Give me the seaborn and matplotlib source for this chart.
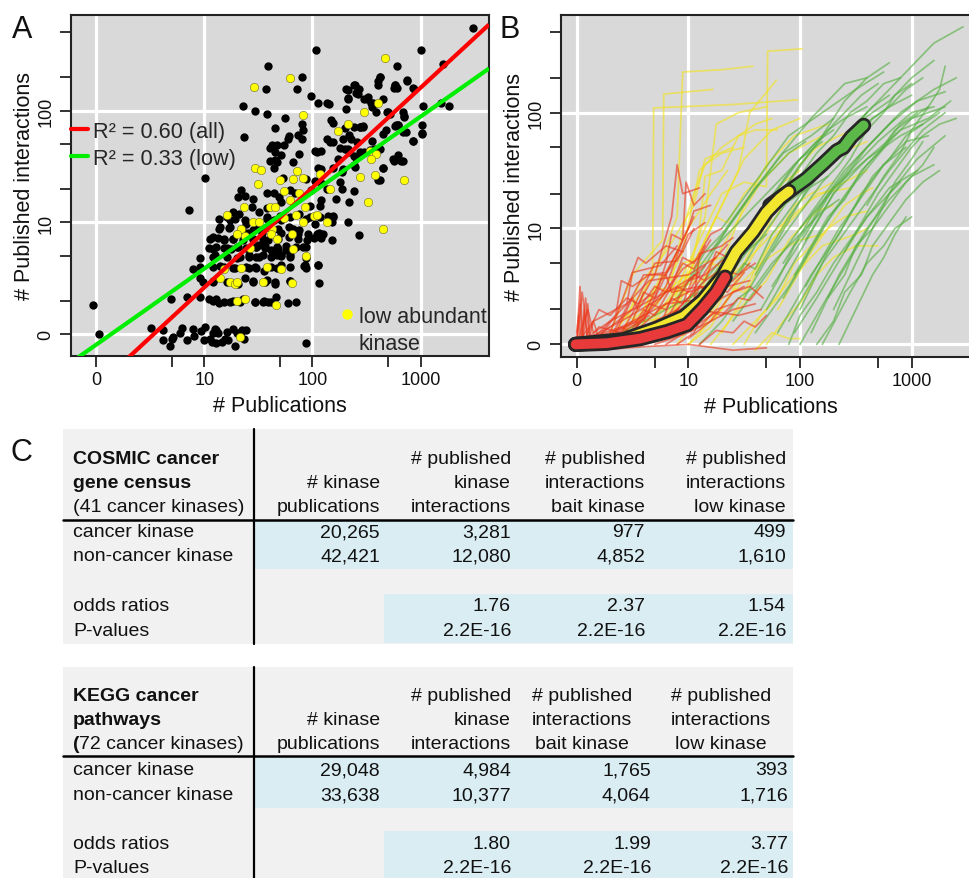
import numpy as np
import pandas as pd
import matplotlib
matplotlib.use("Agg")
import matplotlib.pyplot as plt
import seaborn as sns
from matplotlib.lines import Line2D
from matplotlib.patches import Rectangle

sns.set_theme(style="darkgrid")
plt.rcParams['font.family'] = ['Liberation Sans', 'DejaVu Sans']

# ---------------- DATA ----------------
# axis ticks (count values and their log10 positions; 0 is drawn at position 0)
x_tick_values = [0, 5, 10, 50, 100, 500, 1000]
x_tick_labels = ['0', '', '10', '', '100', '', '1000']
y_tick_values = [0, 2, 5, 10, 20, 50, 100, 200, 500]
y_tick_labels = ['0', '', '', '10', '', '', '100', '', '']
x_grid_values = [0, 10, 100, 1000]
y_grid_values = [0, 10, 100]

# Panel A: (log10 publications, log10 interactions)
black_points = [
    (3.48, 2.74), (2.03, 2.54), (3.00, 2.54), (1.59, 2.40), (3.21, 2.42), (2.78, 2.40), (1.90, 2.30),
    (2.87, 2.27), (2.62, 2.30), (2.61, 2.26), (2.38, 2.23), (2.43, 2.19), (2.40, 2.16), (2.31, 2.19),
    (2.33, 2.10), (2.76, 2.23), (2.75, 2.20), (1.57, 2.19), (1.86, 2.19), (2.94, 2.19), (1.99, 2.13),
    (2.05, 2.07), (2.13, 2.07), (2.15, 2.06), (2.50, 2.10), (2.54, 2.07), (2.55, 2.03), (2.65, 2.10),
    (3.19, 2.07), (3.26, 2.04), (3.02, 2.04), (1.36, 2.04), (1.47, 2.00), (1.58, 1.97), (2.31, 2.01),
    (2.69, 1.99), (2.72, 1.97), (2.84, 1.99), (1.75, 1.93), (2.17, 1.92), (2.19, 1.89), (2.85, 1.94),
    (3.01, 1.87), (3.01, 1.79), (2.77, 1.87), (2.79, 1.87), (2.86, 1.81), (1.90, 1.88), (1.91, 1.83),
    (1.65, 1.84), (2.30, 1.84), (2.38, 1.85), (2.44, 1.85), (2.47, 1.85), (1.37, 1.76), (2.34, 1.78),
    (2.28, 1.75), (2.68, 1.83), (2.65, 1.79), (2.93, 1.73), (1.77, 1.75), (1.78, 1.77), (1.87, 1.78),
    (1.90, 1.75), (2.13, 1.75), (2.16, 1.72), (2.55, 1.73), (2.57, 1.66), (2.19, 1.72), (1.61, 1.67),
    (1.63, 1.69), (1.67, 1.69), (1.65, 1.63), (1.74, 1.69), (2.02, 1.64), (2.04, 1.63), (2.08, 1.64),
    (2.25, 1.67), (2.33, 1.66), (2.34, 1.63), (2.44, 1.63), (2.48, 1.63), (2.74, 1.57), (2.82, 1.55),
    (1.88, 1.61), (1.71, 1.60), (1.82, 1.54), (1.61, 1.55), (1.65, 1.56), (2.24, 1.57), (2.40, 1.58),
    (1.64, 1.49), (1.67, 1.54), (2.05, 1.49), (2.08, 1.48), (2.19, 1.49), (2.28, 1.48), (2.27, 1.45),
    (2.38, 1.51), (2.65, 1.49), (1.01, 1.40), (1.73, 1.40), (1.94, 1.39), (2.62, 1.38), (2.02, 1.37),
    (2.08, 1.35), (2.25, 1.36), (2.13, 1.30), (2.27, 1.30), (1.79, 1.29), (1.34, 1.29), (1.31, 1.23),
    (1.38, 1.24), (1.58, 1.26), (1.45, 1.21), (1.64, 1.26), (1.69, 1.23), (1.84, 1.26), (1.99, 1.29),
    (2.38, 1.28), (2.22, 1.21), (2.34, 1.18), (2.08, 1.20), (0.86, 1.11), (1.27, 1.09), (1.28, 1.03),
    (1.32, 1.08), (1.44, 1.14), (1.51, 1.09), (1.58, 1.13), (1.71, 1.18), (1.98, 1.15), (2.07, 1.15),
    (2.14, 1.06), (2.19, 1.06), (1.14, 1.03), (1.24, 1.02), (1.38, 1.02), (1.48, 0.96), (1.58, 1.03),
    (1.70, 1.06), (1.94, 1.03), (2.02, 0.99), (2.18, 1.00), (2.33, 1.00), (1.14, 0.94), (1.23, 0.95),
    (1.40, 0.91), (1.45, 0.93), (1.53, 0.91), (1.58, 0.96), (1.68, 0.94), (1.71, 0.91), (1.78, 0.96),
    (1.82, 0.94), (1.88, 0.93), (2.06, 0.91), (2.43, 0.89), (1.05, 0.85), (1.13, 0.86), (1.18, 0.85),
    (1.27, 0.85), (1.45, 0.85), (1.54, 0.85), (1.87, 0.85), (1.95, 0.84), (2.01, 0.86), (2.08, 0.86),
    (2.18, 0.84), (1.04, 0.77), (1.08, 0.76), (1.18, 0.77), (1.25, 0.76), (1.31, 0.78), (1.48, 0.78),
    (1.56, 0.79), (1.62, 0.75), (1.68, 0.76), (1.76, 0.79), (1.91, 0.78), (0.96, 0.68), (1.08, 0.69),
    (1.33, 0.69), (1.41, 0.69), (1.48, 0.69), (1.54, 0.71), (1.62, 0.69), (1.67, 0.71), (1.71, 0.70),
    (1.79, 0.71), (0.90, 0.58), (0.96, 0.60), (1.15, 0.61), (1.27, 0.59), (1.41, 0.59), (1.48, 0.59),
    (1.67, 0.59), (1.92, 0.61), (1.94, 0.59), (2.05, 0.62), (0.96, 0.50), (0.99, 0.47), (1.08, 0.48),
    (1.38, 0.50), (1.45, 0.47), (1.58, 0.49), (1.65, 0.47), (1.79, 0.48), (2.06, 0.46), (0.69, 0.32),
    (0.84, 0.33), (0.96, 0.33), (1.04, 0.32), (1.11, 0.32), (1.14, 0.28), (1.24, 0.29), (1.33, 0.29),
    (1.47, 0.29), (1.54, 0.29), (1.59, 0.29), (1.66, 0.33), (1.77, 0.28), (1.85, 0.29), (-0.03, 0.26),
    (0.03, 0.00), (0.51, 0.06), (0.62, 0.04), (0.62, -0.05), (0.68, -0.10), (0.70, -0.04), (0.79, 0.06),
    (0.78, 0.01), (0.84, -0.05), (0.90, 0.05), (0.97, 0.03), (1.01, 0.07), (1.00, -0.05), (1.05, -0.04),
    (1.08, 0.01), (1.11, 0.04), (1.13, 0.01), (1.16, -0.07), (1.22, -0.05), (1.27, 0.05), (1.28, -0.10),
    (1.34, 0.02), (1.39, 0.04), (1.37, -0.04), (1.94, -0.08), (0.71, -0.02), (0.91, -0.01), (1.07, -0.07),
    (1.21, 0.02), (1.30, 0.01),
    (1.15, 0.96), (1.21, 1.05), (1.24, 0.96), (1.35, 0.93), (1.39, 0.99), (1.48, 0.99), (1.58, 1.05),
    (1.64, 1.02), (1.71, 1.02), (1.79, 1.05), (1.88, 1.08), (1.98, 1.05), (2.07, 1.05), (2.19, 1.05),
    (1.08, 0.87), (1.18, 0.84), (1.27, 0.85), (1.36, 0.84), (1.45, 0.85), (1.51, 0.80), (1.59, 0.84),
    (1.68, 0.85), (1.78, 0.87), (1.87, 0.90), (1.96, 0.90), (2.04, 0.90), (2.10, 0.90), (1.11, 0.78),
    (1.21, 0.77), (1.30, 0.78), (1.39, 0.77), (1.48, 0.78), (1.56, 0.77), (1.67, 0.78), (1.76, 0.75),
    (1.85, 0.78), (1.94, 0.78), (1.10, 0.71), (1.21, 0.69), (1.30, 0.68), (1.41, 0.71), (1.51, 0.69),
    (1.71, 0.71), (1.79, 0.69), (1.94, 0.68), (1.08, 0.60), (1.18, 0.60), (1.28, 0.59), (1.39, 0.60),
    (1.47, 0.60), (1.55, 0.57), (1.62, 0.60), (1.71, 0.62), (1.79, 0.60), (1.93, 0.62), (2.05, 0.62),
    (1.08, 0.47), (1.21, 0.47), (1.31, 0.45), (1.45, 0.48), (1.56, 0.47), (1.65, 0.45), (1.79, 0.48),
    (1.08, 0.30), (1.18, 0.29), (1.27, 0.30), (1.36, 0.32), (1.47, 0.29), (1.55, 0.30), (1.62, 0.29),
    (1.10, 0.05), (1.19, -0.04), (1.35, 0.04), (1.11, -0.08),
    (2.33, 2.18), (2.39, 2.23), (2.42, 2.15), (2.48, 2.10), (2.51, 2.12), (2.56, 2.07), (2.59, 1.99),
    (2.61, 2.23), (2.62, 2.30), (2.70, 1.99), (2.76, 2.23), (2.78, 2.20), (2.87, 2.26), (2.93, 2.20),
    (2.79, 1.87), (2.85, 1.95), (2.76, 1.86), (2.84, 1.81), (3.01, 1.80), (2.93, 1.73), (2.33, 2.11),
    (2.36, 1.75), (2.44, 1.85), (2.47, 1.86), (2.41, 1.72), (2.53, 1.65), (2.62, 1.66), (2.75, 1.55),
    (2.79, 1.60), (2.84, 1.55), (2.65, 1.49), (2.39, 1.50), (2.61, 1.38), (2.38, 1.59), (2.30, 1.66),
]
yellow_points = [
    (2.67, 2.47), (1.79, 2.29), (1.46, 2.21), (2.61, 2.07), (1.91, 1.96), (2.48, 1.99), (2.33, 1.88),
    (2.24, 1.82), (2.53, 1.64), (2.59, 1.61), (2.54, 1.57), (1.47, 1.49), (1.52, 1.47), (1.86, 1.46),
    (1.70, 1.38), (1.82, 1.39), (1.91, 1.40), (2.44, 1.41), (2.58, 1.42), (2.85, 1.38), (2.07, 1.43),
    (1.50, 1.34), (1.74, 1.28), (1.88, 1.26), (2.16, 1.30), (2.51, 1.18), (1.21, 1.07), (1.37, 1.14),
    (1.61, 1.14), (1.65, 1.14), (1.79, 1.20), (1.93, 1.14), (2.01, 1.06), (2.04, 1.07), (1.45, 1.00),
    (1.51, 1.00), (1.74, 1.04), (1.85, 1.07), (1.91, 1.00), (2.13, 1.00), (2.65, 0.94), (1.34, 0.94),
    (1.63, 0.94), (1.30, 0.90), (1.38, 0.88), (1.62, 0.90), (1.67, 0.85), (1.81, 0.90), (1.42, 0.77),
    (1.82, 0.76), (1.94, 0.70), (1.18, 0.58), (1.34, 0.59), (1.58, 0.60), (1.71, 0.58), (1.15, 0.50),
    (1.24, 0.47), (1.28, 0.45), (1.30, 0.47), (1.54, 0.47), (1.81, 0.46), (1.30, 0.30), (1.38, 0.32),
    (1.66, 0.26), (1.33, -0.02),
]
fit_labels = ['R\u00b2 = 0.60 (all)', 'R\u00b2 = 0.33 (low)']
fit_slopes = [0.893, 0.680]
fit_intercepts = [-0.474, -0.093]

# Panel B: cumulative publication/interaction traces (log10 units)
red_traces = [
    [(0, 0), (0.1, 0.3), (0.15, 0.1), (0.3, 0.2), (0.6, 0.35), (0.9, 0.5), (1.1, 0.62)],
    [(0, 0), (0.05, 0.45), (0.1, 0.05), (0.4, 0.15), (0.7, 0.3), (1.0, 0.45), (1.3, 0.55)],
    [(0, 0), (0.3, 0.05), (0.6, 0.25), (0.75, 0.55), (0.95, 0.8), (1.05, 1.0)],
    [(0, 0.02), (0.5, 0.1), (0.8, 0.2), (1.0, 0.4), (1.2, 0.7), (1.35, 0.86)],
    [(0.1, 0), (0.5, 0.3), (0.7, 0.7), (0.9, 0.72), (1.0, 0.95), (1.15, 1.05)],
    [(0, 0), (0.2, 0.1), (0.55, 0.45), (0.65, 0.55), (1.0, 0.6), (1.25, 0.75)],
    [(0.3, 0), (0.7, 0.1), (1.0, 0.3), (1.2, 0.45), (1.4, 0.55), (1.55, 0.7)],
    [(0.2, 0), (0.6, 0.05), (0.9, 0.12), (1.1, 0.25), (1.3, 0.4), (1.5, 0.5)],
    [(0, 0), (0.4, 0.2), (0.75, 0.4), (0.95, 0.65), (1.1, 0.75), (1.2, 0.9)],
    [(0.5, 0), (0.8, 0.2), (1.0, 0.55), (1.15, 0.6), (1.3, 0.72), (1.45, 0.8)],
    [(0.05, 0), (0.1, 0.35), (0.12, 0.05), (0.3, 0.1), (0.55, 0.2)],
    [(0, 0), (0.03, 0.5), (0.06, 0.0), (0.2, 0.15), (0.4, 0.1), (0.65, 0.25)],
    [(0.7, 0), (1.0, 0.1), (1.2, 0.2), (1.4, 0.3), (1.6, 0.35)],
    [(0.4, 0), (0.8, 0.35), (1.05, 0.38), (1.1, 0.78), (1.3, 0.85), (1.4, 0.92)],
    [(0.6, 0.05), (0.9, 0.3), (1.2, 0.35), (1.35, 0.5), (1.55, 0.55)],
    [(0.3, 0.05), (0.6, 0.6), (0.8, 0.6), (0.85, 0.45), (1.1, 0.5), (1.25, 0.48)],
    [(0.0, 0.0), (0.15, 0.2), (0.45, 0.35), (0.5, 0.62), (0.75, 0.68), (0.9, 0.85)],
    [(0.8, 0), (1.05, 0.15), (1.25, 0.28), (1.45, 0.25), (1.65, 0.3)],
    [(0.2, 0), (0.45, 0.05), (0.8, 0.45), (0.95, 0.5), (1.15, 0.68)],
    [(0, 0.05), (0.25, 0.02), (0.6, 0.15), (0.9, 0.3), (1.15, 0.55), (1.3, 0.65)],
    [(0.5, 0.1), (0.8, 0.5), (0.95, 0.9), (0.98, 1.4), (1.05, 1.2), (1.15, 1.3)],
    [(0.4, 0.1), (0.7, 0.6), (0.85, 1.1), (0.9, 1.55), (0.95, 1.3), (1.1, 1.35)],
    [(0.6, 0.2), (0.85, 0.7), (1.0, 1.0), (1.05, 1.15), (1.2, 1.2)],
    [(0.3, 0.1), (0.55, 0.75), (0.62, 0.7), (0.8, 0.85), (0.95, 0.8)],
    [(1.0, 0.05), (1.2, 0.2), (1.4, 0.45), (1.55, 0.5), (1.67, 0.4)],
    [(0, -0.05), (0.02, 0.25), (0.04, -0.02), (0.08, 0.4), (0.12, 0.0), (0.3, 0.05)],
    [(0.2, -0.05), (0.6, -0.02), (1.0, 0.0), (1.4, -0.05), (1.7, -0.03)],
    [(0.1, 0), (0.3, 0.08), (0.35, 0.02), (0.5, 0.12), (0.7, 0.18), (0.75, 0.1), (0.9, 0.25), (1.05, 0.3), (1.2, 0.28)],
    [(0.2, 0.02), (0.4, 0.15), (0.5, 0.1), (0.65, 0.35), (0.8, 0.3), (0.9, 0.5), (1.0, 0.45), (1.1, 0.6)],
    [(0.6, 0), (0.75, 0.2), (0.85, 0.15), (1.0, 0.35), (1.1, 0.3), (1.25, 0.5), (1.35, 0.45), (1.5, 0.62)],
    [(0.0, 0.1), (0.03, 0.35), (0.05, 0.05), (0.07, 0.3), (0.1, 0.0), (0.15, 0.2), (0.2, 0.05)],
    [(0.3, 0.0), (0.5, 0.4), (0.55, 0.3), (0.7, 0.5), (0.8, 0.45), (0.95, 0.7), (1.05, 0.65), (1.15, 0.85)],
    [(0.8, 0.1), (0.9, 0.3), (1.0, 0.25), (1.1, 0.5), (1.2, 0.45), (1.3, 0.65), (1.45, 0.6), (1.6, 0.7)],
    [(0.45, 0.05), (0.6, 0.3), (0.7, 0.25), (0.85, 0.5), (0.95, 0.75), (1.05, 0.7), (1.2, 0.95), (1.3, 1.0)],
    [(0.9, 0.0), (1.05, 0.1), (1.15, 0.3), (1.3, 0.25), (1.45, 0.4), (1.55, 0.38), (1.65, 0.5)],
    [(0.15, 0.0), (0.35, 0.25), (0.4, 0.55), (0.5, 0.5), (0.65, 0.6), (0.8, 0.62), (0.9, 0.8)],
    [(0.7, 0.05), (0.85, 0.4), (0.95, 0.35), (1.05, 0.6), (1.15, 0.55), (1.25, 0.8), (1.35, 0.75), (1.45, 0.88)],
    [(1.1, 0.0), (1.25, 0.12), (1.4, 0.1), (1.5, 0.2), (1.6, 0.15), (1.7, 0.25)],
    [(0.5, 0.0), (0.65, 0.1), (0.8, 0.08), (0.95, 0.2), (1.1, 0.15), (1.25, 0.3), (1.4, 0.35)],
    [(0.35, 0.1), (0.5, 0.2), (0.6, 0.45), (0.7, 0.4), (0.8, 0.7), (0.85, 0.95), (0.95, 0.9), (1.05, 1.1)],
    [(0.05, 0.0), (0.2, 0.3), (0.3, 0.25), (0.45, 0.4), (0.55, 0.35), (0.7, 0.45)],
]
yellow_traces = [
    [(0.6, 0.1), (0.9, 0.5), (1.1, 0.9), (1.3, 1.3), (1.5, 1.4), (1.7, 1.36), (1.71, 2.53), (2.02, 2.55)],
    [(0.4, 0.2), (0.7, 0.6), (0.9, 1.1), (0.95, 2.35), (1.3, 2.37), (1.58, 2.4)],
    [(0.3, 0.1), (0.5, 0.6), (0.77, 0.9), (0.78, 2.16), (1.22, 2.2)],
    [(0.5, 0.2), (0.68, 0.6), (0.69, 2.04), (1.4, 2.07), (1.98, 2.11)],
    [(0.7, 0.2), (1.0, 0.6), (1.2, 1.0), (1.45, 1.5), (1.55, 2.0), (1.79, 2.28)],
    [(0.6, 0.0), (0.9, 0.4), (1.1, 0.8), (1.3, 1.2), (1.5, 1.6), (1.75, 1.85), (2.0, 1.95)],
    [(0.8, 0.1), (1.1, 0.5), (1.4, 1.0), (1.65, 1.4), (1.9, 1.65), (2.2, 1.8)],
    [(1.0, 0.0), (1.3, 0.3), (1.6, 0.8), (1.85, 1.2), (2.1, 1.5), (2.35, 1.65), (2.6, 1.75)],
    [(0.9, 0.0), (1.2, 0.4), (1.5, 0.7), (1.8, 1.0), (2.1, 1.25), (2.4, 1.4), (2.6, 1.5)],
    [(1.4, 0.0), (1.7, 0.3), (1.95, 0.6), (2.2, 0.85), (2.5, 0.95), (2.6, 1.0)],
    [(0.3, 0.0), (0.6, 0.3), (0.85, 0.7), (1.0, 1.0), (1.2, 1.3), (1.35, 1.5)],
    [(0.4, 0.05), (0.55, 0.5), (0.8, 0.8), (1.05, 1.2), (1.15, 1.6), (1.4, 1.7)],
    [(1.2, 0.0), (1.45, 0.3), (1.7, 0.55), (1.9, 0.9), (2.15, 1.15), (2.3, 1.2)],
    [(0.2, 0.0), (0.5, 0.15), (0.8, 0.45), (1.1, 0.7), (1.3, 0.75)],
    [(1.6, -0.05), (1.75, 0.1), (1.9, 0.05), (2.0, 0.05)],
    [(0.7, 0.3), (0.95, 0.8), (1.1, 1.5), (1.3, 1.7), (1.6, 1.9), (1.75, 1.95)],
    [(1.0, 0.3), (1.3, 0.7), (1.5, 1.2), (1.7, 1.55), (1.95, 1.8), (2.25, 1.9)],
    [(0.5, 0.1), (0.8, 0.35), (0.95, 0.5), (1.25, 0.6)],
    [(1.1, 0.1), (1.4, 0.6), (1.6, 1.05), (1.85, 1.35), (2.05, 1.45)],
    [(0.85, 0.2), (1.15, 1.1), (1.25, 1.9), (1.45, 2.0), (1.7, 2.05)],
    [(0.0, 0.0), (0.3, 0.05), (0.6, 0.2), (0.9, 0.25), (1.2, 0.3)],
    [(1.3, 0.1), (1.55, 0.5), (1.75, 0.9), (1.95, 1.1), (2.15, 1.3), (2.45, 1.35)],
    [(0.5, 0.0), (0.7, 0.2), (0.8, 0.15), (0.95, 0.45), (1.1, 0.4), (1.2, 0.7), (1.35, 0.65), (1.5, 0.95), (1.65, 1.1), (1.8, 1.2)],
    [(0.9, 0.1), (1.05, 0.35), (1.15, 0.3), (1.3, 0.6), (1.45, 0.9), (1.55, 0.85), (1.7, 1.15), (1.85, 1.4), (2.0, 1.5)],
    [(1.2, 0.2), (1.35, 0.5), (1.5, 0.45), (1.65, 0.75), (1.8, 0.95), (1.95, 1.2), (2.1, 1.3), (2.3, 1.4)],
    [(1.5, 0.0), (1.65, 0.25), (1.8, 0.4), (1.95, 0.7), (2.1, 0.85), (2.25, 1.0), (2.4, 1.1), (2.6, 1.15)],
    [(0.7, 0.1), (0.85, 0.3), (0.95, 0.6), (1.05, 0.55), (1.15, 0.9), (1.25, 1.1), (1.35, 1.05), (1.5, 1.3), (1.65, 1.45)],
    [(0.3, 0.05), (0.45, 0.25), (0.55, 0.2), (0.7, 0.5), (0.85, 0.45), (0.95, 0.7), (1.1, 0.75)],
    [(1.0, 0.0), (1.2, 0.15), (1.35, 0.4), (1.5, 0.55), (1.65, 0.7), (1.8, 0.8), (2.0, 0.9), (2.2, 0.95)],
    [(1.7, 0.0), (1.85, 0.2), (2.0, 0.35), (2.15, 0.6), (2.3, 0.75), (2.5, 0.85), (2.7, 0.85)],
    [(1.4, 0.5), (1.55, 0.8), (1.7, 1.0), (1.85, 1.3), (2.0, 1.55), (2.15, 1.7), (2.35, 1.8), (2.5, 1.85)],
    [(0.6, 0.2), (0.75, 0.6), (0.85, 0.55), (0.95, 1.0), (1.05, 1.3), (1.15, 1.55), (1.3, 1.65), (1.5, 1.7)],
    [(0.9, 0.3), (1.0, 0.55), (1.1, 1.0), (1.15, 1.45), (1.3, 1.5), (1.45, 1.8), (1.6, 1.85), (1.8, 1.85)],
    [(1.8, 0.3), (1.95, 0.55), (2.1, 0.8), (2.25, 1.0), (2.4, 1.2), (2.55, 1.3), (2.65, 1.35)],
]
green_traces = [
    [(1.5, 0.4), (1.8, 0.9), (2.1, 1.4), (2.4, 1.8), (2.7, 2.1), (3.0, 2.4), (3.2, 2.6), (3.46, 2.74)],
    [(1.3, 0.5), (1.6, 0.9), (1.9, 1.4), (2.2, 1.8), (2.4, 2.1), (2.6, 2.3), (2.8, 2.43)],
    [(1.6, 0.6), (1.9, 1.1), (2.2, 1.5), (2.5, 1.9), (2.8, 2.1), (3.0, 2.3), (3.2, 2.45)],
    [(1.7, 0.3), (2.0, 0.8), (2.3, 1.3), (2.6, 1.7), (2.9, 2.0), (3.2, 2.2), (3.4, 2.3)],
    [(1.9, 0.2), (2.2, 0.7), (2.5, 1.1), (2.8, 1.5), (3.1, 1.85), (3.3, 2.0)],
    [(2.0, 0.0), (2.3, 0.5), (2.55, 0.9), (2.8, 1.3), (3.05, 1.6), (3.3, 1.8)],
    [(2.1, 0.1), (2.35, 0.6), (2.6, 1.0), (2.8, 1.25), (3.0, 1.45), (3.2, 1.55)],
    [(1.8, 0.1), (2.1, 0.6), (2.35, 0.95), (2.55, 1.3), (2.75, 1.55), (2.95, 1.7)],
    [(1.2, 0.8), (1.5, 1.2), (1.8, 1.6), (2.1, 1.95), (2.4, 2.25), (2.6, 2.3)],
    [(0.9, 0.4), (1.2, 0.8), (1.5, 1.1), (1.8, 1.4), (2.0, 1.6), (2.2, 1.75)],
    [(1.4, 0.2), (1.7, 0.6), (2.0, 1.0), (2.3, 1.35), (2.6, 1.6), (2.9, 1.8), (3.1, 1.9)],
    [(1.6, 0.1), (1.9, 0.5), (2.2, 1.0), (2.5, 1.4), (2.8, 1.75), (3.0, 1.95), (3.3, 2.05)],
    [(2.2, 0.0), (2.45, 0.45), (2.6, 0.7), (2.75, 0.85), (2.85, 1.0), (3.0, 1.1)],
    [(1.0, 0.3), (1.3, 0.7), (1.6, 1.0), (1.9, 1.3), (2.2, 1.6), (2.45, 1.85), (2.6, 2.0)],
    [(1.75, 0.5), (2.05, 0.95), (2.3, 1.35), (2.55, 1.65), (2.8, 1.9), (3.05, 2.1), (3.3, 2.18)],
    [(1.5, 0.8), (1.75, 1.2), (2.0, 1.55), (2.3, 1.9), (2.55, 2.15), (2.7, 2.25)],
    [(2.0, 0.3), (2.25, 0.8), (2.5, 1.2), (2.75, 1.55), (2.95, 1.75), (3.15, 1.8)],
    [(1.85, 0.7), (2.1, 1.1), (2.4, 1.45), (2.7, 1.75), (3.0, 2.0), (3.2, 2.05)],
    [(1.1, 0.6), (1.35, 1.0), (1.6, 1.35), (1.85, 1.65), (2.1, 1.8), (2.3, 1.95)],
    [(1.95, 0.1), (2.15, 0.4), (2.4, 0.8), (2.6, 1.1), (2.8, 1.35), (3.05, 1.5)],
    [(2.3, 0.3), (2.5, 0.7), (2.7, 1.1), (2.85, 1.4), (3.0, 1.6), (3.1, 1.75)],
    [(1.3, 1.0), (1.6, 1.4), (1.9, 1.8), (2.2, 2.0), (2.5, 2.2), (2.75, 2.35)],
    [(1.65, 1.0), (1.9, 1.3), (2.2, 1.6), (2.5, 1.85), (2.8, 2.05), (3.0, 2.15)],
    [(0.85, 0.2), (1.1, 0.5), (1.4, 0.85), (1.7, 1.1), (2.0, 1.3), (2.25, 1.45)],
    [(2.05, 0.9), (2.3, 1.3), (2.6, 1.6), (2.9, 1.85), (3.15, 1.95), (3.35, 2.1)],
    [(0.0, 0.0), (0.4, 0.1), (0.8, 0.3), (1.1, 0.45), (1.4, 0.7), (1.7, 0.95)],
    [(1.2, 0.3), (1.35, 0.5), (1.5, 0.7), (1.6, 0.65), (1.75, 0.95), (1.9, 1.15), (2.05, 1.35), (2.2, 1.5), (2.35, 1.65), (2.5, 1.8)],
    [(1.45, 0.6), (1.6, 0.85), (1.75, 1.05), (1.9, 1.25), (2.05, 1.45), (2.2, 1.6), (2.35, 1.75), (2.5, 1.9), (2.65, 2.05), (2.8, 2.15)],
    [(1.65, 0.3), (1.8, 0.55), (1.95, 0.85), (2.1, 1.05), (2.25, 1.3), (2.4, 1.5), (2.55, 1.65), (2.7, 1.8), (2.85, 1.95)],
    [(1.85, 0.4), (2.0, 0.65), (2.15, 0.9), (2.3, 1.15), (2.45, 1.35), (2.6, 1.55), (2.75, 1.7), (2.9, 1.9), (3.05, 2.0)],
    [(2.05, 0.5), (2.2, 0.75), (2.35, 1.0), (2.5, 1.2), (2.65, 1.45), (2.8, 1.6), (2.95, 1.8), (3.1, 1.9), (3.25, 2.0)],
    [(2.15, 0.0), (2.3, 0.2), (2.4, 0.45), (2.55, 0.6), (2.65, 0.85), (2.8, 1.05), (2.95, 1.25), (3.1, 1.4), (3.25, 1.5)],
    [(2.35, 0.0), (2.45, 0.2), (2.55, 0.4), (2.65, 0.6), (2.75, 0.75), (2.85, 0.95), (2.95, 1.1)],
    [(1.0, 0.55), (1.15, 0.8), (1.3, 0.95), (1.45, 1.15), (1.6, 1.35), (1.75, 1.5), (1.9, 1.65), (2.05, 1.75)],
    [(1.35, 0.75), (1.5, 0.95), (1.65, 1.15), (1.8, 1.35), (1.95, 1.55), (2.1, 1.7), (2.25, 1.85), (2.4, 1.95), (2.6, 2.05)],
    [(1.55, 0.9), (1.7, 1.1), (1.85, 1.3), (2.0, 1.45), (2.15, 1.65), (2.3, 1.8), (2.45, 2.0), (2.6, 2.1), (2.75, 2.25), (2.9, 2.3)],
    [(1.75, 0.8), (1.9, 1.0), (2.05, 1.2), (2.2, 1.4), (2.35, 1.55), (2.5, 1.75), (2.65, 1.95), (2.8, 2.05), (2.95, 2.2), (3.1, 2.3)],
    [(1.95, 0.6), (2.1, 0.85), (2.25, 1.1), (2.4, 1.25), (2.55, 1.5), (2.7, 1.65), (2.85, 1.85), (3.0, 1.95), (3.15, 2.05)],
    [(2.4, 0.8), (2.55, 1.05), (2.7, 1.3), (2.85, 1.5), (3.0, 1.7), (3.1, 1.8), (3.25, 1.9), (3.4, 1.95)],
    [(1.1, 0.0), (1.3, 0.2), (1.45, 0.4), (1.6, 0.5), (1.75, 0.7), (1.9, 0.85), (2.05, 1.0), (2.2, 1.15), (2.35, 1.25)],
    [(1.25, 0.5), (1.4, 0.7), (1.55, 0.95), (1.7, 1.2), (1.85, 1.4), (2.0, 1.6), (2.15, 1.75), (2.3, 1.85)],
    [(2.25, 0.4), (2.4, 0.6), (2.5, 0.85), (2.65, 1.0), (2.8, 1.2), (2.95, 1.4), (3.1, 1.55), (3.2, 1.7)],
    [(1.9, 0.0), (2.0, 0.25), (2.15, 0.45), (2.3, 0.7), (2.45, 0.9), (2.6, 1.1), (2.75, 1.25), (2.9, 1.4)],
    [(2.6, 1.2), (2.75, 1.45), (2.9, 1.65), (3.0, 1.85), (3.15, 2.05), (3.25, 2.2), (3.3, 2.4)],
    [(0.2, 0.0), (0.5, 0.05), (0.8, 0.15), (1.0, 0.3), (1.2, 0.4), (1.35, 0.55)],
    [(2.0, 1.0), (2.15, 1.2), (2.3, 1.4), (2.45, 1.6), (2.6, 1.85), (2.75, 2.0), (2.85, 2.15), (3.0, 2.25)],
]
median_green = [(1.73, 1.20), (1.90, 1.32), (2.06, 1.43), (2.21, 1.56), (2.33, 1.67), (2.39, 1.70),
                (2.46, 1.79), (2.57, 1.89)]
median_yellow = [(-0.01, 0.0), (0.42, 0.04), (0.72, 0.14), (0.96, 0.24), (1.13, 0.38), (1.31, 0.59),
                 (1.43, 0.80), (1.58, 0.97), (1.70, 1.14), (1.82, 1.26), (1.90, 1.32)]
median_red = [(-0.01, 0.0), (0.27, 0.01), (0.57, 0.05), (0.81, 0.11), (0.99, 0.17), (1.13, 0.31),
              (1.25, 0.45), (1.33, 0.58)]

# Panel C tables
t1_title = ['COSMIC cancer', 'gene census', '(41 cancer kinases)']
t2_title = ['KEGG cancer', 'pathways', '(72 cancer kinases)']
col_headers = [['# kinase', 'publications'],
               ['# published', 'kinase', 'interactions'],
               ['# published', 'interactions', 'bait kinase'],
               ['# published', 'interactions', 'low kinase']]
row_labels = ['cancer kinase', 'non-cancer kinase', 'odds ratios', 'P-values']
t1_values = [['20,265', '3,281', '977', '499'],
             ['42,421', '12,080', '4,852', '1,610'],
             ['', '1.76', '2.37', '1.54'],
             ['', '2.2E-16', '2.2E-16', '2.2E-16']]
t2_values = [['29,048', '4,984', '1,765', '393'],
             ['33,638', '10,377', '4,064', '1,716'],
             ['', '1.80', '1.99', '3.77'],
             ['', '2.2E-16', '2.2E-16', '2.2E-16']]

# ---------------- FIGURE ----------------
W, H = 969, 879
fig = plt.figure(figsize=(W / 100, H / 100), dpi=100)
LABEL_FS = 15.5


def logpos(v):
    return 0.0 if v == 0 else np.log10(v)


def style_axes(ax, xlim, ylim):
    ax.set_facecolor('#d9d9d9')
    ax.grid(False)
    for v in x_grid_values:
        ax.axvline(logpos(v), color='white', lw=2.3, zorder=0.5)
    for v in y_grid_values:
        ax.axhline(logpos(v), color='white', lw=2.3, zorder=0.5)
    ax.set_xlim(*xlim)
    ax.set_ylim(*ylim)
    ax.set_xticks([logpos(v) for v in x_tick_values])
    ax.set_xticklabels(x_tick_labels)
    ax.set_yticks([logpos(v) for v in y_tick_values])
    ax.set_yticklabels(y_tick_labels, rotation=90, va='center')
    ax.tick_params(axis='both', which='major', direction='out', length=8, width=1.2,
                   colors='#111111', labelsize=13, bottom=True, left=True)
    ax.tick_params(axis='x', pad=3)
    ax.tick_params(axis='y', pad=4)
    for s in ax.spines.values():
        s.set_visible(True)
        s.set_color('#222222')
        s.set_linewidth(1.5)


def set_labels(ax):
    ax.set_xlabel('# Publications', fontsize=LABEL_FS, labelpad=4.5, color='#111111')
    ax.set_ylabel('# Published interactions', fontsize=LABEL_FS, labelpad=2, color='#111111')


# ---- Panel C (table) drawn in pixel space ----
axc = fig.add_axes([0, 0, 1, 1])
axc.set_xlim(0, W)
axc.set_ylim(H, 0)
axc.axis('off')

GREY = '#f1f1f1'
BLUE = '#daedf3'
FS = 14


def draw_table(top, bottom, hline_y, blue1, blue2, head_y, data_y, stat_y,
               title, values, head_anchor, head_ha, val_right, bold_paren):
    axc.add_patch(Rectangle((63, top), 730, bottom - top, color=GREY, lw=0, zorder=0))
    axc.add_patch(Rectangle((255, blue1[0]), 538, blue1[1] - blue1[0], color=BLUE, lw=0, zorder=1))
    axc.add_patch(Rectangle((384, blue2[0]), 409, blue2[1] - blue2[0], color=BLUE, lw=0, zorder=1))
    axc.plot([254, 254], [top, bottom], color='black', lw=1.6, zorder=3)
    axc.plot([63, 793], [hline_y, hline_y], color='black', lw=1.8, zorder=3)
    axc.text(73, head_y[0], title[0], fontsize=FS, fontweight='bold', va='center', ha='left', color='#111111')
    axc.text(73, head_y[1], title[1], fontsize=FS, fontweight='bold', va='center', ha='left', color='#111111')
    if bold_paren:
        tp = axc.text(73, head_y[2], title[2][0], fontsize=FS, fontweight='bold', va='center', ha='left',
                      color='#111111')
        axc.annotate(title[2][1:], xy=(1, 0), xycoords=tp, va='bottom', ha='left', fontsize=FS,
                     color='#111111')
    else:
        axc.text(73, head_y[2], title[2], fontsize=FS, va='center', ha='left', color='#111111')
    for c, lines in enumerate(col_headers):
        rows_y = head_y[3 - len(lines):]
        for ln, yy in zip(lines, rows_y):
            axc.text(head_anchor[c], yy, ln, fontsize=FS, va='center', ha=head_ha[c], color='#111111')
    ys = list(data_y) + list(stat_y)
    for r, yy in enumerate(ys):
        axc.text(73, yy, row_labels[r], fontsize=FS, va='center', ha='left', color='#111111')
        for c, v in enumerate(values[r]):
            if v:
                axc.text(val_right[c], yy, v, fontsize=FS, va='center', ha='right', color='#111111')


draw_table(430, 645, 521, (522, 570), (595, 644), [460, 484, 508], [533, 557], [607, 632],
           t1_title, t1_values, [380, 511, 645, 786], ['right'] * 4, [380, 511, 645, 786], False)
draw_table(668, 879, 757, (758, 809), (832, 879), [697, 721, 745], [771, 796], [845, 869],
           t2_title, t2_values, [380, 511, 582, 721], ['right', 'right', 'center', 'center'],
           [380, 511, 651, 788], True)

# ---- Panel A ----
axA = fig.add_axes([71 / W, 1 - 357 / H, 418 / W, 341 / H])
style_axes(axA, (-0.231, 3.631), (-0.193, 2.854))
dfb = pd.DataFrame(black_points, columns=['pubs', 'inter'])
dfy = pd.DataFrame(yellow_points, columns=['pubs', 'inter'])
sns.scatterplot(data=dfb, x='pubs', y='inter', ax=axA, color='black', s=36, linewidth=0,
                legend=False, zorder=3)
sns.scatterplot(data=dfy, x='pubs', y='inter', ax=axA, color='#ffff00', s=36, edgecolor='#6b6b30',
                linewidth=0.4, legend=False, zorder=4)
xs = np.array(axA.get_xlim())
fit_colors = ['#ff0000', '#00ee00']
for sl, ic, col in zip(fit_slopes, fit_intercepts, fit_colors):
    axA.plot(xs, sl * xs + ic, color=col, lw=3.0, zorder=5, solid_capstyle='butt')
axA.set_xlim(-0.231, 3.631)
axA.set_ylim(-0.193, 2.854)
set_labels(axA)

h1 = Line2D([], [], color=fit_colors[0], lw=3)
h2 = Line2D([], [], color=fit_colors[1], lw=3)
leg1 = axA.legend([h1, h2], fit_labels, loc='upper left', bbox_to_anchor=(0.0, 0.69),
                  frameon=False, fontsize=15.6, handlelength=0.77, handletextpad=0.25,
                  borderaxespad=0, borderpad=0, labelspacing=0.28)
axA.add_artist(leg1)
h3 = Line2D([], [], ls='none', marker='o', markersize=7.5, markerfacecolor='#ffff00',
            markeredgecolor='none')
h4 = Line2D([], [], ls='none')
axA.legend([h3, h4], ['low abundant', 'kinase'], loc='upper left', bbox_to_anchor=(0.64, 0.1475),
           frameon=False, fontsize=15.5, handlelength=0.8, handletextpad=0.15,
           borderaxespad=0, borderpad=0, labelspacing=0.29)

# ---- Panel B ----
axB = fig.add_axes([561 / W, 1 - 358 / H, 419 / W, 342 / H])
style_axes(axB, (-0.140, 3.612), (-0.109, 2.842))
rows = []
for grp, traces in (('yellow', yellow_traces), ('green', green_traces), ('red', red_traces)):
    for i, tr in enumerate(traces):
        for k, (x, y) in enumerate(tr):
            rows.append((grp, f'{grp}{i}', k, x, y))
dft = pd.DataFrame(rows, columns=['grp', 'trace', 'step', 'pubs', 'inter'])
thin_colors = {'red': '#ec3a20', 'yellow': '#f3e31c', 'green': '#55b042'}
for grp in ('yellow', 'green', 'red'):
    sub = dft[dft.grp == grp]
    sns.lineplot(data=sub, x='pubs', y='inter', units='trace', estimator=None, sort=False,
                 color=thin_colors[grp], lw=1.25, alpha=0.62, ax=axB, legend=False, zorder=3)
thick_colors = [('#5cb848', median_green), ('#f2e62e', median_yellow), ('#e83a3a', median_red)]
for col, med in thick_colors:
    mx, my = zip(*med)
    axB.plot(mx, my, color='#262626', lw=11, solid_capstyle='round', solid_joinstyle='round', zorder=6)
    axB.plot(mx, my, color=col, lw=7.0, solid_capstyle='round', solid_joinstyle='round', zorder=6)
axB.spines['right'].set_visible(False)
axB.set_xlim(-0.140, 3.612)
axB.set_ylim(-0.109, 2.842)
set_labels(axB)

# panel letters
fig.text(12 / W, 1 - 38 / H, 'A', fontsize=22, va='baseline', ha='left', color='#111111')
fig.text(499 / W, 1 - 38 / H, 'B', fontsize=22, va='baseline', ha='left', color='#111111')
fig.text(11 / W, 1 - 461 / H, 'C', fontsize=22, va='baseline', ha='left', color='#111111')

fig.savefig('out.png', dpi=100)
